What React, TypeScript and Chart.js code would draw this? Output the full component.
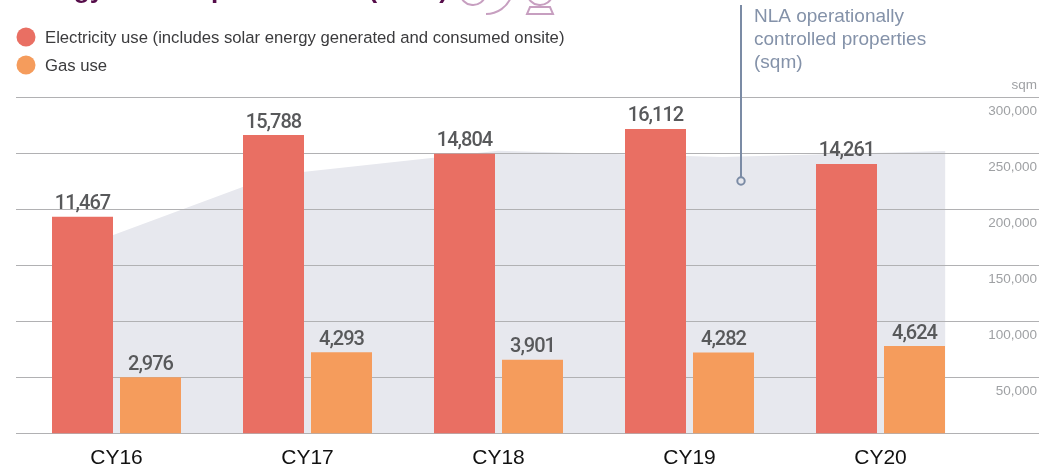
import { useEffect, useRef } from "react";
import { Chart, registerables } from "chart.js";

Chart.register(...registerables);

const categories = ["CY16", "CY17", "CY18", "CY19", "CY20"];
const electricityUse = [11467, 15788, 14804, 16112, 14261];
const gasUse = [2976, 4293, 3901, 4282, 4624];
const nlaPositions = [-0.338, 0.83, 1.997, 3.17, 4.34];
const nlaValues = [157000, 230800, 252400, 246900, 252200];
const sqmTicks = [0, 50000, 100000, 150000, 200000, 250000, 300000];

const electricityLabel = "Electricity use (includes solar energy generated and consumed onsite)";
const gasLabel = "Gas use";
const titleText = "Energy consumption trends (MWh)";
const nlaNote = ["NLA operationally", "controlled properties", "(sqm)"];

const RED = "#e96f63";
const ORANGE = "#f59c5c";
const AREA = "#e7e8ee";
const GRID = "#b1b1b3";
const SANS = '"Liberation Sans", Arial, sans-serif';

const decorPlugin = {
  id: "decor",
  afterDatasetDraw(chart: any, args: any) {
    if (args.index !== 2) return;
    const { ctx } = chart;
    const y1 = chart.scales.y1;
    ctx.save();
    ctx.strokeStyle = GRID;
    ctx.lineWidth = 1.2;
    for (const t of sqmTicks) {
      const y = y1.getPixelForValue(t);
      ctx.beginPath();
      ctx.moveTo(16, y);
      ctx.lineTo(1039, y);
      ctx.stroke();
    }
    ctx.restore();
  },
  afterDatasetsDraw(chart: any) {
    const { ctx } = chart;
    ctx.save();

    // value labels
    ctx.font = "500 20px Roboto, sans-serif";
    (ctx as any).letterSpacing = "-1px";
    ctx.fillStyle = "#58595b";
    ctx.textAlign = "center";
    ctx.textBaseline = "alphabetic";
    [electricityUse, gasUse].forEach((values, di) => {
      const meta = chart.getDatasetMeta(di);
      meta.data.forEach((bar: any, i: number) => {
        ctx.fillText(values[i].toLocaleString("en-US"), bar.x, bar.y - 7.5);
      });
    });
    (ctx as any).letterSpacing = "0px";

    // legend
    ctx.textAlign = "left";
    [
      [electricityLabel, RED, 37],
      [gasLabel, ORANGE, 65],
    ].forEach(([label, color, y]: any) => {
      ctx.fillStyle = color;
      ctx.beginPath();
      ctx.arc(26, y, 9.5, 0, Math.PI * 2);
      ctx.fill();
      ctx.fillStyle = "#3b3b3d";
      ctx.font = `16.7px ${SANS}`;
      ctx.fillText(label, 45, y + 6);
    });

    // cropped title
    ctx.fillStyle = "#560d4a";
    ctx.font = `bold 26px ${SANS}`;
    ctx.fillText(titleText, 16, -2);

    // cropped icon
    ctx.strokeStyle = "#c79fc0";
    ctx.lineWidth = 2;
    ctx.beginPath();
    ctx.arc(473, -8, 13, 0.15, Math.PI - 0.15);
    ctx.stroke();
    ctx.beginPath();
    ctx.arc(486, -13, 27, 0.35, Math.PI / 2);
    ctx.stroke();
    ctx.beginPath();
    ctx.arc(540, -8, 13, 0.15, Math.PI - 0.15);
    ctx.stroke();
    ctx.beginPath();
    ctx.moveTo(530, 7);
    ctx.lineTo(550, 7);
    ctx.lineTo(553, 14);
    ctx.lineTo(527, 14);
    ctx.closePath();
    ctx.stroke();

    // NLA callout
    ctx.strokeStyle = "#7b8ba5";
    ctx.lineWidth = 2;
    ctx.beginPath();
    ctx.moveTo(741, 5);
    ctx.lineTo(741, 177);
    ctx.stroke();
    ctx.beginPath();
    ctx.arc(741, 181, 3.7, 0, Math.PI * 2);
    ctx.stroke();
    ctx.fillStyle = "#8492a9";
    ctx.font = `19px ${SANS}`;
    nlaNote.forEach((line, i) => ctx.fillText(line, 754, 22 + i * 23));

    // unit
    ctx.fillStyle = "#9fa1a4";
    ctx.font = `13.5px ${SANS}`;
    ctx.textAlign = "right";
    ctx.fillText("sqm", 1037, 89);

    ctx.restore();
  },
};

export default function App() {
  const ref = useRef<HTMLCanvasElement>(null);
  useEffect(() => {
    const barStyle = { order: 1, yAxisID: "y", categoryPercentage: 0.712, barPercentage: 0.897 };
    const chart = new Chart(ref.current!, {
      type: "bar",
      plugins: [decorPlugin],
      data: {
        datasets: [
          { ...barStyle, label: electricityLabel, backgroundColor: RED, data: categories.map((_, i) => ({ x: i, y: electricityUse[i] })) },
          { ...barStyle, label: gasLabel, backgroundColor: ORANGE, data: categories.map((_, i) => ({ x: i, y: gasUse[i] })) },
          {
            type: "line",
            label: "NLA operationally controlled properties (sqm)",
            data: nlaPositions.map((x, i) => ({ x, y: nlaValues[i] })),
            yAxisID: "y1",
            order: 2,
            fill: "origin",
            backgroundColor: AREA,
            borderWidth: 0,
            pointRadius: 0,
            tension: 0,
          },
        ],
      } as any,
      options: {
        responsive: false,
        animation: false,
        layout: { padding: { top: 97.5, left: 21, right: 2, bottom: 0 } },
        plugins: { legend: { display: false }, tooltip: { enabled: false } },
        scales: {
          x: {
            type: "linear",
            offset: false,
            min: -0.5,
            max: 4.5,
            afterBuildTicks(scale: any) {
              scale.ticks = categories.map((_, value) => ({ value }));
            },
            grid: { display: false, offset: false },
            border: { display: false },
            ticks: {
              color: "#111111",
              padding: 4,
              maxRotation: 0,
              autoSkip: false,
              font: { size: 21, family: SANS },
              callback: (v: any) => categories[v],
            },
            afterFit(scale: any) {
              scale.height = 35.5;
            },
          },
          y: { type: "linear", display: false, min: 0, max: 17778 },
          y1: {
            type: "linear",
            position: "right",
            min: 0,
            max: 300000,
            afterBuildTicks(scale: any) {
              scale.ticks = sqmTicks.map((value) => ({ value }));
            },
            grid: { display: false },
            border: { display: false },
            ticks: {
              color: "#9fa1a4",
              crossAlign: "far",
              labelOffset: 14,
              font: { size: 13.5, family: SANS },
              callback: (v: any) => (v === 0 ? "" : Number(v).toLocaleString("en-US")),
            },
            afterFit(scale: any) {
              scale.width = 61;
            },
          },
        },
      } as any,
    });
    return () => chart.destroy();
  }, []);
  return (
    <canvas
      ref={ref}
      width={1039}
      height={469}
      style={{ position: "absolute", left: 0, top: 0, display: "block" }}
    />
  );
}
